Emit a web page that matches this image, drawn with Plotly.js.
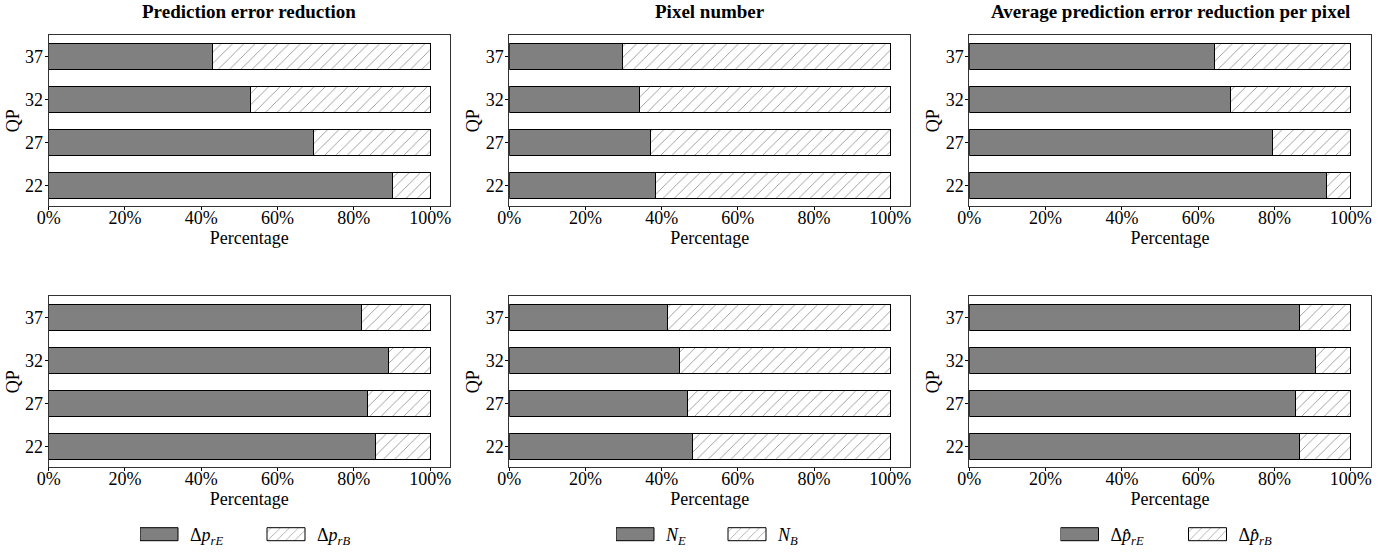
<!DOCTYPE html>
<html>
<head>
<meta charset="utf-8">
<script src="https://cdn.plot.ly/plotly-3.0.1.min.js"></script>
<style>html,body{margin:0;padding:0;background:#fff;}#chart{width:1396px;height:553px;}</style>
</head>
<body>
<div id="chart"></div>
<script>
// ---- data ----
const qpLabels = ['22', '27', '32', '37'];
const panelTitles = ['Prediction error reduction', 'Pixel number', 'Average prediction error reduction per pixel'];
const seriesNamesE = ['Δ<i>p</i><sub><i>rE</i></sub>', '<i>N</i><sub><i>E</i></sub>', 'Δ<i>p̂</i><sub><i>rE</i></sub>'];
const seriesNamesB = ['Δ<i>p</i><sub><i>rB</i></sub>', '<i>N</i><sub><i>B</i></sub>', 'Δ<i>p̂</i><sub><i>rB</i></sub>'];
// values (percent of E part) in order QP 22, 27, 32, 37
const errRedTop = [90.1, 69.3, 53.0, 42.9];
const pixNumTop = [38.4, 37.0, 34.2, 29.6];
const avgRedTop = [93.7, 79.4, 68.4, 64.3];
const errRedBottom = [85.6, 83.7, 89.0, 82.0];
const pixNumBottom = [48.1, 46.7, 44.7, 41.5];
const avgRedBottom = [86.5, 85.4, 90.8, 86.5];
const xTickVals = [0, 20, 40, 60, 80, 100];
const xTickText = ['0%', '20%', '40%', '60%', '80%', '100%'];

const panels = [errRedTop, pixNumTop, avgRedTop, errRedBottom, pixNumBottom, avgRedBottom];

const FONT = '"Liberation Serif", "Times New Roman", serif';
const colDomains = [[48.7/1396, 450/1396], [509.3/1396, 910/1396], [969.3/1396, 1370.7/1396]];
const rowDomains = [[1-206.7/553, 1-35.3/553], [1-468.3/553, 1-296.7/553]];

const traces = [];
const layout = {
  width: 1396, height: 553,
  margin: {l: 0, r: 0, t: 0, b: 0},
  paper_bgcolor: '#fff', plot_bgcolor: '#fff',
  barmode: 'stack', bargap: 0.4,
  font: {family: FONT, size: 18, color: '#000'},
  annotations: [], showlegend: true
};

panels.forEach((vals, i) => {
  const col = i % 3, row = Math.floor(i / 3);
  const ax = i + 1;
  const xa = 'x' + ax, ya = 'y' + ax;
  const legendId = col === 0 ? 'legend' : 'legend' + (col + 1);
  traces.push({
    type: 'bar', orientation: 'h', y: qpLabels, x: vals,
    xaxis: xa, yaxis: ya, name: seriesNamesE[col],
    marker: {color: '#808080', line: {color: '#000', width: 1}},
    legend: legendId, showlegend: row === 1, hoverinfo: 'x+y'
  });
  traces.push({
    type: 'bar', orientation: 'h', y: qpLabels, x: vals.map(v => 100 - v),
    xaxis: xa, yaxis: ya, name: seriesNamesB[col],
    marker: {color: '#fff', line: {color: '#000', width: 1},
      pattern: {shape: '/', fgcolor: '#8a8a8a', bgcolor: '#fff', size: 8, solidity: 0.1}},
    legend: legendId, showlegend: row === 1, hoverinfo: 'x+y'
  });
  const sfx = ax === 1 ? '' : ax;
  layout['xaxis' + sfx] = {
    domain: colDomains[col], anchor: ya, range: [0, 105.2],
    tickmode: 'array', tickvals: xTickVals, ticktext: xTickText,
    ticks: 'outside', ticklen: 3, tickcolor: '#000',
    showline: true, mirror: true, linecolor: '#333', linewidth: 1, showgrid: false, zeroline: false,
    tickfont: {family: FONT, size: 18, color: '#000'},
    title: {text: 'Percentage', font: {family: FONT, size: 18, color: '#000'}, standoff: 0}
  };
  layout['yaxis' + sfx] = {
    domain: rowDomains[row], anchor: xa, type: 'category',
    categoryorder: 'array', categoryarray: qpLabels, range: [-0.49, 3.49],
    ticks: 'outside', ticklen: 3, tickcolor: '#000',
    showline: true, mirror: true, linecolor: '#333', linewidth: 1, showgrid: false, zeroline: false,
    tickfont: {family: FONT, size: 18, color: '#000'},
    title: {text: 'QP', font: {family: FONT, size: 18, color: '#000'}, standoff: 2}
  };
});

panelTitles.forEach((t, c) => {
  layout.annotations.push({
    text: '<b>' + t + '</b>', xref: 'paper', yref: 'paper',
    x: (colDomains[c][0] + colDomains[c][1]) / 2, y: 1 - 12/553,
    xanchor: 'center', yanchor: 'middle', showarrow: false,
    font: {family: FONT, size: 19, color: '#000'}
  });
});

const legendXs = [140/1396, 616/1396, 1060.5/1396];
const legendEntryW = [72, 57, 73];
['legend', 'legend2', 'legend3'].forEach((id, c) => {
  layout[id] = {
    orientation: 'h', x: legendXs[c], xanchor: 'left', y: 1 - 535/553, yanchor: 'middle',
    traceorder: 'normal',
    bgcolor: 'rgba(0,0,0,0)', borderwidth: 0, itemwidth: 40, entrywidth: legendEntryW[c],
    font: {family: FONT, size: 18, color: '#000'}, itemclick: false, itemdoubleclick: false
  };
});

function shift(sel, dx, dy) {
  document.querySelectorAll(sel).forEach(el => {
    const t = el.getAttribute('transform') || '';
    el.setAttribute('transform', t + ' translate(' + dx + ',' + dy + ')');
  });
}

Plotly.newPlot('chart', traces, layout, {displayModeBar: false, staticPlot: true}).then(() => {
  document.querySelectorAll('.legendpoints path').forEach(p => {
    p.setAttribute('d', 'M13,6.5H-25V-6.5H13Z');
  });
  shift('.xaxislayer-above > g', 0, -8);
  shift('.yaxislayer-above > g', 2, 0);
  shift('[class^="g-x"][class$="title"]', 0, -8);
  shift('[class^="g-y"][class$="title"]', 3, 0);
});
</script>
</body>
</html>
